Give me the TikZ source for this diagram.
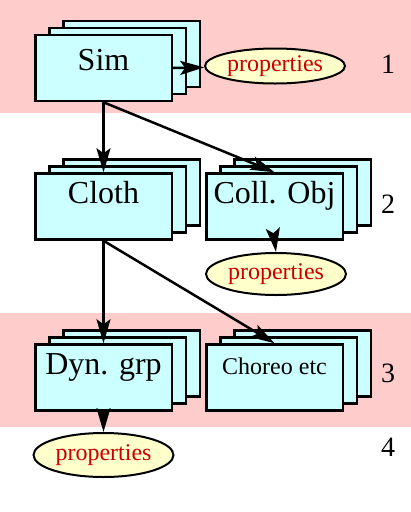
\documentclass[tikz,border=0pt]{standalone}
\usepackage{fontspec}
\setmainfont{Liberation Serif}
\usetikzlibrary{arrows.meta,shapes.geometric,shadows}
\definecolor{bandpink}{RGB}{255,204,204}
\definecolor{boxcyan}{RGB}{204,255,255}
\definecolor{propyellow}{RGB}{255,255,204}
\definecolor{propred}{RGB}{204,0,0}

\begin{document}
\begin{tikzpicture}[x=1pt,y=-1pt,>={Stealth[length=24pt,width=14pt,inset=5pt]},line width=2.5pt,
                    node distance=171pt]
  \tikzstyle{every node}=[inner sep=0pt]
  \tikzstyle{layered}=[draw,fill=boxcyan,line width=2.5pt,minimum width=136.5pt,
                       text height=30pt,text depth=36pt,font=\fontsize{32}{38}\selectfont,
                       preaction={copy shadow={shadow xshift=28pt,shadow yshift=14pt}},
                       copy shadow={shadow xshift=14pt,shadow yshift=7pt}]
  \tikzstyle{props}=[ellipse,draw,line width=2pt,fill=propyellow,text=propred,
                     minimum width=140pt,font=\fontsize{24}{28}\selectfont]
  \tikzstyle{rowno}=[font=\fontsize{28}{32}\selectfont]

  \useasboundingbox (0,0) rectangle (411,512);
  % background bands
  \fill[bandpink] (0,0) rectangle (411,113);
  \fill[bandpink] (0,313) rectangle (411,427);

  \node[layered,text height=35pt,text depth=31pt] (sim) at (103.5,68) {Sim};
  \node[layered] (cloth) [below of=sim,node distance=138.5pt] {Cloth};
  \node[layered] (coll) [right of=cloth] {Coll. Obj};
  \node[layered] (dyn) [below of=cloth] {Dyn. grp};
  \node[layered,font=\fontsize{24}{28}\selectfont] (choreo) [right of=dyn] {Choreo etc};

  \node[props,minimum height=35pt] (prop1) at (275,66) {properties};
  \node[props,minimum height=42pt] (prop2) at (276,274) {properties};
  \node[props,minimum height=44pt] (prop3) at (103.5,455) {properties};

  \node[rowno] (n1) at (388,64) {1};
  \node[rowno] (n2) at (388,204) {2};
  \node[rowno] (n3) at (388,373) {3};
  \node[rowno] (n4) at (388,447) {4};

  \draw[->] (sim.east) -- (prop1);
  \draw[->] (sim.south) -- (cloth.north);
  \draw[->] (sim.south) -- (coll.north);
  \draw[->] (coll.south) -- (prop2.north);
  \draw[->] (cloth.south) -- (dyn.north);
  \draw[->] (cloth.south) -- (choreo.north);
  \draw[->] (dyn.south) -- (prop3.north);
\end{tikzpicture}
\end{document}
